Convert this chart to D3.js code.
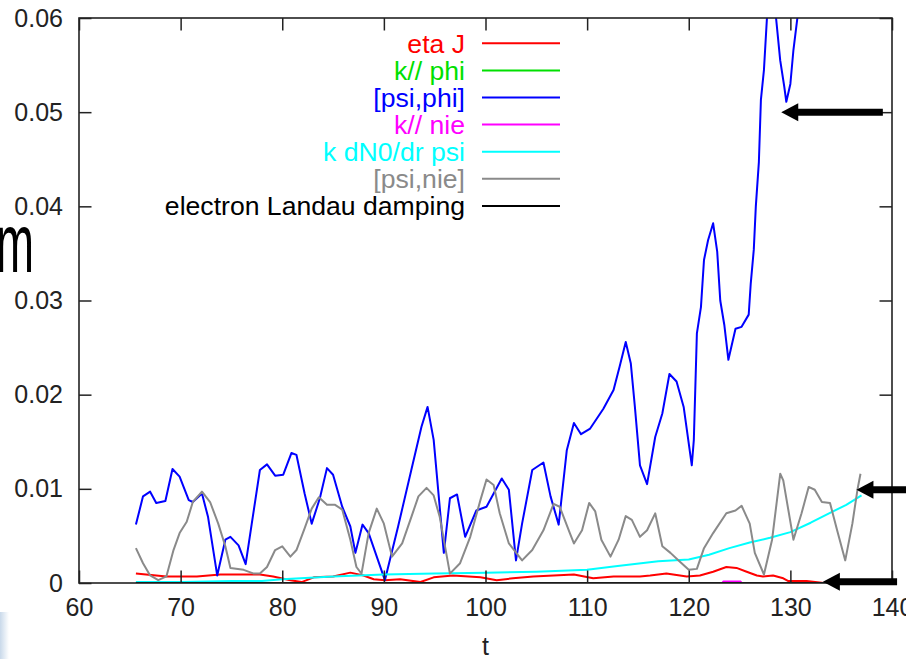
<!DOCTYPE html>
<html>
<head>
<meta charset="utf-8">
<script src="https://cdn.jsdelivr.net/npm/d3@7"></script>
<style>
  body { margin: 0; background: #fff; }
  svg { display: block; }
  text { font-family: "Liberation Sans", Arial, sans-serif; }
</style>
</head>
<body>
<script>
// ---- data ----
var xTicks = [60, 70, 80, 90, 100, 110, 120, 130, 140];
var yTicks = [0, 0.01, 0.02, 0.03, 0.04, 0.05, 0.06];

var seriesNames = ["eta J", "k// phi", "[psi,phi]", "k// nie", "k dN0/dr psi", "[psi,nie]", "electron Landau damping"];
var seriesColors = ["#ff0000", "#00e000", "#0000ff", "#ff00ff", "#00ffff", "#8a8a8a", "#000000"];

// eta J
var tEtaJ = [65.6, 68.6, 71.6, 73.9, 77.8, 79.1, 80.8, 81.9, 83.1, 85.0, 86.7, 88.0, 89.0, 90.1, 91.6, 93.6, 94.9, 96.8, 99.5, 101.1, 102.7, 104.7, 106.7, 108.7, 110.6, 112.6, 115.2, 116.2, 117.8, 119.8, 121.1, 122.4, 123.7, 124.7, 125.7, 126.7, 127.3, 128.3, 129.3, 129.8, 131.6, 133.3];
var etaJ = [0.0010, 0.0007, 0.0007, 0.0009, 0.0009, 0.0007, 0.0003, 0.0001, 0.0006, 0.0007, 0.0011, 0.0008, 0.0004, 0.0003, 0.0004, 0.0001, 0.0006, 0.0008, 0.0006, 0.0003, 0.0005, 0.0007, 0.0008, 0.0009, 0.0005, 0.0007, 0.0007, 0.0008, 0.0010, 0.0007, 0.0008, 0.0012, 0.0017, 0.0016, 0.0012, 0.0008, 0.0007, 0.0008, 0.0005, 0.0002, 0.0002, 0.0000];

// k// phi
var tKphi = [65.6, 137.0];
var kPhi = [0, 0];

// [psi,phi]
var tPsiPhi = [65.6, 66.3, 67.0, 67.6, 68.5, 69.2, 69.9, 70.8, 71.2, 72.1, 72.7, 73.6, 74.4, 74.9, 75.7, 76.4, 77.0, 77.8, 78.5, 79.3, 80.1, 80.9, 81.4, 82.2, 82.9, 83.7, 84.4, 85.0, 85.9, 86.7, 87.2, 87.9, 88.5, 90.1, 91.4, 92.7, 93.7, 94.3, 94.9, 95.9, 96.5, 97.2, 98.0, 99.1, 100.1, 101.6, 102.3, 103.0, 103.6, 104.6, 105.7, 106.4, 107.2, 108.0, 108.7, 109.4, 110.3, 111.6, 112.6, 113.2, 113.8, 114.3, 114.7, 115.2, 115.9, 116.7, 117.4, 118.1, 118.8, 119.5, 120.3, 120.5, 120.8, 121.2, 121.5, 121.9, 122.4, 122.8, 123.1, 123.5, 123.9, 124.6, 125.2, 125.9, 126.1, 126.4, 126.6, 126.9, 127.1, 127.4, 127.7, 128.1, 128.5, 129.0, 129.4, 129.6, 130.0, 130.3, 130.7, 131.2];
var psiPhi = [0.0062, 0.0092, 0.0097, 0.0085, 0.0087, 0.0121, 0.0113, 0.0088, 0.0086, 0.0095, 0.0070, 0.0008, 0.0046, 0.0049, 0.0040, 0.0020, 0.0063, 0.0120, 0.0126, 0.0114, 0.0115, 0.0138, 0.0136, 0.0095, 0.0063, 0.0090, 0.0122, 0.0115, 0.0081, 0.0060, 0.0032, 0.0062, 0.0053, 0.0003, 0.0060, 0.0120, 0.0166, 0.0187, 0.0152, 0.0032, 0.0090, 0.0094, 0.0049, 0.0077, 0.0081, 0.0111, 0.0099, 0.0024, 0.0063, 0.0120, 0.0128, 0.0092, 0.0062, 0.0141, 0.0170, 0.0158, 0.0164, 0.0185, 0.0205, 0.0230, 0.0256, 0.0233, 0.0187, 0.0125, 0.0105, 0.0155, 0.0180, 0.0222, 0.0214, 0.0187, 0.0125, 0.0152, 0.0265, 0.0293, 0.0343, 0.0364, 0.0382, 0.0352, 0.0300, 0.0274, 0.0237, 0.0270, 0.0272, 0.0285, 0.0318, 0.0354, 0.0400, 0.0447, 0.0513, 0.0545, 0.0601, 0.0640, 0.0610, 0.0555, 0.0527, 0.0511, 0.0530, 0.0566, 0.0601, 0.0680];

// k// nie
var tKnie = [65.6, 123.3, 123.4, 125.1, 125.2, 137.0];
var kNie = [0, 0, 0.00016, 0.00016, 0, 0];

// k dN0/dr psi
var tDn0 = [65.6, 70.0, 75.0, 78.0, 80.0, 85.0, 90.0, 95.0, 100.0, 105.0, 110.0, 113.0, 117.0, 120.0, 122.0, 124.0, 126.0, 128.0, 130.0, 132.0, 134.0, 135.5, 137.0];
var dn0 = [0.0001, 0.0001, 0.0002, 0.0002, 0.0004, 0.0007, 0.0009, 0.0010, 0.0011, 0.0012, 0.0014, 0.0018, 0.0023, 0.0025, 0.0030, 0.0037, 0.0043, 0.0048, 0.0054, 0.0064, 0.0075, 0.0083, 0.0093];

// [psi,nie]
var tPsiNie = [65.6, 66.3, 67.0, 67.8, 68.6, 69.3, 69.9, 70.6, 71.2, 72.1, 72.9, 73.7, 74.4, 74.9, 76.2, 77.2, 77.8, 78.5, 79.3, 80.0, 80.8, 81.4, 82.2, 82.9, 83.6, 84.4, 85.2, 85.9, 86.7, 87.3, 87.8, 88.5, 89.3, 90.0, 90.8, 91.8, 92.7, 93.4, 94.2, 94.9, 95.5, 96.5, 97.5, 98.5, 99.5, 100.1, 100.8, 101.4, 102.3, 103.6, 104.6, 105.7, 106.7, 107.3, 108.3, 108.7, 109.5, 110.2, 110.8, 111.4, 112.3, 113.1, 113.8, 114.4, 115.2, 115.9, 116.7, 117.4, 118.2, 119.0, 120.0, 120.8, 121.5, 122.4, 123.7, 124.6, 125.2, 126.0, 126.5, 127.4, 128.2, 129.0, 129.3, 130.3, 131.1, 131.8, 132.4, 133.1, 133.9, 134.6, 135.4, 136.1, 136.6, 136.9];
var psiNie = [0.0037, 0.0021, 0.0008, 0.0003, 0.0007, 0.0035, 0.0053, 0.0065, 0.0086, 0.0097, 0.0086, 0.0063, 0.0039, 0.0016, 0.0014, 0.0010, 0.0010, 0.0017, 0.0035, 0.0039, 0.0028, 0.0035, 0.0058, 0.0079, 0.0091, 0.0083, 0.0083, 0.0078, 0.0046, 0.0017, 0.0010, 0.0053, 0.0079, 0.0063, 0.0028, 0.0042, 0.0070, 0.0092, 0.0101, 0.0093, 0.0070, 0.0010, 0.0021, 0.0049, 0.0088, 0.0110, 0.0104, 0.0074, 0.0042, 0.0024, 0.0035, 0.0056, 0.0084, 0.0081, 0.0053, 0.0042, 0.0056, 0.0085, 0.0076, 0.0046, 0.0028, 0.0046, 0.0071, 0.0067, 0.0049, 0.0056, 0.0074, 0.0039, 0.0032, 0.0024, 0.0014, 0.0015, 0.0037, 0.0053, 0.0074, 0.0077, 0.0082, 0.0063, 0.0032, 0.0009, 0.0046, 0.0116, 0.0109, 0.0046, 0.0074, 0.0102, 0.0099, 0.0086, 0.0085, 0.0056, 0.0024, 0.0063, 0.0099, 0.0116];

// electron Landau damping
var tLandau = [65.6, 137.0];
var landau = [0, 0];

// arrows drawn on the slide: tip (t, value) and tail t
var arrowTipT = [129.1, 136.5, 133.2];
var arrowTipV = [0.0500, 0.0099, 0.00014];
var arrowTailT = [139.1, 141.5, 140.5];

var seriesT = [tEtaJ, tKphi, tPsiPhi, tKnie, tDn0, tPsiNie, tLandau];
var seriesV = [etaJ, kPhi, psiPhi, kNie, dn0, psiNie, landau];

// ---- layout ----
var W = 906, H = 659;
var margin = {top: 18, right: 14, bottom: 76, left: 79};
var width = W - margin.left - margin.right,
    height = H - margin.top - margin.bottom;
var fontSize = 25;

var svg = d3.select("body").append("svg")
    .attr("width", W)
    .attr("height", H);

// slide leftovers: big letter and a faint corner
var defs = svg.append("defs");
var grad = defs.append("linearGradient").attr("id", "corner")
    .attr("x1", 0).attr("x2", 1).attr("y1", 0).attr("y2", 0);
grad.append("stop").attr("offset", "0%").attr("stop-color", "#c9d9ea");
grad.append("stop").attr("offset", "100%").attr("stop-color", "#ffffff");
svg.append("rect").attr("x", 0).attr("y", 612).attr("width", 9).attr("height", 47)
    .attr("fill", "url(#corner)");
svg.append("text")
    .attr("x", -4).attr("y", 272)
    .attr("font-size", 84)
    .attr("textLength", 38)
    .attr("lengthAdjust", "spacingAndGlyphs")
    .attr("fill", "#000")
    .text("m");

var g = svg.append("g")
    .attr("transform", "translate(" + margin.left + "," + margin.top + ")");

var x = d3.scaleLinear().domain([60, 140]).range([0, width]);
var y = d3.scaleLinear().domain([0, 0.06]).range([height, 0]);

defs.append("clipPath").attr("id", "plotclip")
  .append("rect").attr("width", width).attr("height", height);

var tickLen = 12.5;
var yFmt = function(d) { return d === 0 ? "0" : d3.format(".2f")(d); };

// data lines
var line = d3.line()
    .x(function(d) { return x(d[0]); })
    .y(function(d) { return y(d[1]); });

var lines = g.append("g").attr("clip-path", "url(#plotclip)");
seriesT.forEach(function(ts, i) {
    var pts = ts.map(function(t, j) { return [t, seriesV[i][j]]; });
    lines.append("path")
        .datum(pts)
        .attr("fill", "none")
        .attr("stroke", seriesColors[i])
        .attr("stroke-width", 2)
        .attr("stroke-linejoin", "round")
        .attr("d", line);
});

// axes (inner ticks, mirrored like gnuplot)
var axisCol = "#222";
function styleAxis(sel) {
    sel.select(".domain").remove();
    sel.selectAll(".tick line").attr("stroke", axisCol).attr("stroke-width", 1.5);
    sel.selectAll(".tick text").attr("fill", "#222").attr("font-size", fontSize)
        .style("font-family", "'Liberation Sans', Arial, sans-serif");
}

g.append("g")
    .attr("transform", "translate(0," + height + ")")
    .call(d3.axisBottom(x).tickValues(xTicks).tickFormat(d3.format("d"))
        .tickSizeInner(-tickLen).tickSizeOuter(0).tickPadding(15))
    .call(styleAxis);

g.append("g")
    .call(d3.axisTop(x).tickValues(xTicks).tickFormat("")
        .tickSizeInner(-tickLen).tickSizeOuter(0))
    .call(styleAxis);

g.append("g")
    .call(d3.axisLeft(y).tickValues(yTicks).tickFormat(yFmt)
        .tickSizeInner(-tickLen).tickSizeOuter(0).tickPadding(16))
    .call(styleAxis);

g.append("g")
    .attr("transform", "translate(" + width + ",0)")
    .call(d3.axisRight(y).tickValues(yTicks).tickFormat("")
        .tickSizeInner(-tickLen).tickSizeOuter(0))
    .call(styleAxis);

g.append("rect")
    .attr("width", width).attr("height", height)
    .attr("fill", "none")
    .attr("stroke", axisCol)
    .attr("stroke-width", 1.6);

// x label
g.append("text")
    .attr("x", x(100)).attr("y", height + 72)
    .attr("text-anchor", "middle")
    .attr("font-size", fontSize)
    .attr("fill", "#222")
    .text("t");

// legend (gnuplot style: right-aligned labels, sample line to the right)
var legend = g.append("g").attr("transform", "translate(" + (465 - margin.left) + "," + (43.3 - margin.top) + ")");
seriesNames.forEach(function(name, i) {
    var row = legend.append("g").attr("transform", "translate(0," + (i * 27.1) + ")");
    row.append("text")
        .attr("x", 0).attr("y", 0).attr("dy", "0.35em")
        .attr("text-anchor", "end")
        .attr("font-size", 26.6)
        .attr("fill", seriesColors[i])
        .text(name);
    row.append("line")
        .attr("x1", 17).attr("x2", 95)
        .attr("stroke", seriesColors[i])
        .attr("stroke-width", 2);
});

// black arrows laid on the slide
arrowTipT.forEach(function(t, i) {
    var tx = x(t), ty = y(arrowTipV[i]), ex = x(arrowTailT[i]);
    g.append("line")
        .attr("x1", tx + 15).attr("x2", ex)
        .attr("y1", ty).attr("y2", ty)
        .attr("stroke", "#000").attr("stroke-width", 7);
    g.append("path")
        .attr("d", "M" + tx + "," + ty + "L" + (tx + 17) + "," + (ty - 9) + "L" + (tx + 17) + "," + (ty + 9) + "Z")
        .attr("fill", "#000");
});
</script>
</body>
</html>
